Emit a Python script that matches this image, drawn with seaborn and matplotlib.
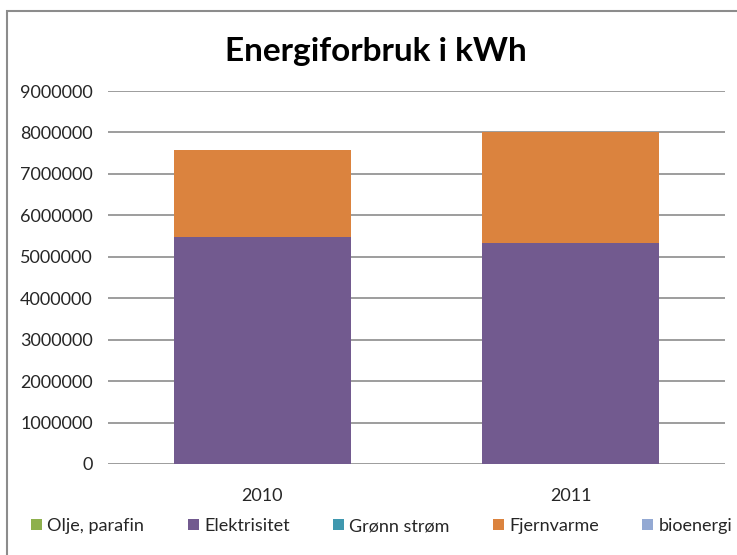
import matplotlib
matplotlib.use("Agg")
import numpy as np
import pandas as pd
import seaborn as sns
import matplotlib.pyplot as plt
from matplotlib.patches import Patch, Rectangle

# Data (kWh)
years = ["2010", "2011"]
sources = ["Olje, parafin", "Elektrisitet", "Grønn strøm", "Fjernvarme", "bioenergi"]
olje = [0, 0]
elektrisitet = [5470000, 5330000]
gronn = [0, 0]
fjernvarme = [2110000, 2680000]
bioenergi = [0, 0]
colors = ["#8EB04D", "#725A8F", "#3F98AF", "#DB833E", "#93A9D3"]

sns.set_style("white")
plt.rcParams['font.family'] = ['Lato', 'DejaVu Sans']

df = pd.DataFrame({"year": years, "Olje, parafin": olje, "Elektrisitet": elektrisitet,
                   "Grønn strøm": gronn, "Fjernvarme": fjernvarme, "bioenergi": bioenergi})

fig = plt.figure(figsize=(7.37, 5.55), dpi=100)
ax = fig.add_axes([108 / 737, 1 - 464 / 555, (725 - 108) / 737, (464 - 91) / 555])

# Stacked bars: draw cumulative totals from top series down
cum = df[sources].cumsum(axis=1)
for src, col in zip(reversed(sources), reversed(colors)):
    sns.barplot(x=df["year"], y=cum[src], color=col, width=0.574, ax=ax,
                saturation=1, order=years, linewidth=0, zorder=3)

ax.set_ylim(0, 9000000)
ax.set_yticks(np.arange(0, 9000001, 1000000))
ax.set_yticklabels([str(v) for v in range(0, 9000001, 1000000)])
ax.yaxis.grid(True, color="#8C8C8C", linewidth=1.2, zorder=0)
ax.set_axisbelow(True)
for s in ax.spines.values():
    s.set_visible(False)
ax.tick_params(axis="y", length=0, pad=11, labelsize=13)
ax.tick_params(axis="x", length=0, pad=17, labelsize=13)
ax.set_xlabel("")
ax.set_ylabel("")

fig.text(376 / 737, 1 - 52 / 555, "Energiforbruk i kWh", ha="center", va="center",
         fontsize=24, fontweight="bold", color="black")

handles = [Patch(facecolor=c, edgecolor="none", label=s) for s, c in zip(sources, colors)]
fig.legend(handles=handles, loc="center left", bbox_to_anchor=(24 / 737, 1 - 526 / 555),
           ncol=5, frameon=False, fontsize=13, handlelength=0.6, handleheight=0.6,
           handletextpad=0.3, columnspacing=2.4, borderaxespad=0)

# outer chart border (cut off at right and bottom)
fig.add_artist(Rectangle((7 / 737, -0.1), 1.2, 1 - 11 / 555 + 0.1, transform=fig.transFigure,
                         fill=False, edgecolor="#8C8C8C", linewidth=1.5, clip_on=False))

fig.savefig("out.png", dpi=100)
